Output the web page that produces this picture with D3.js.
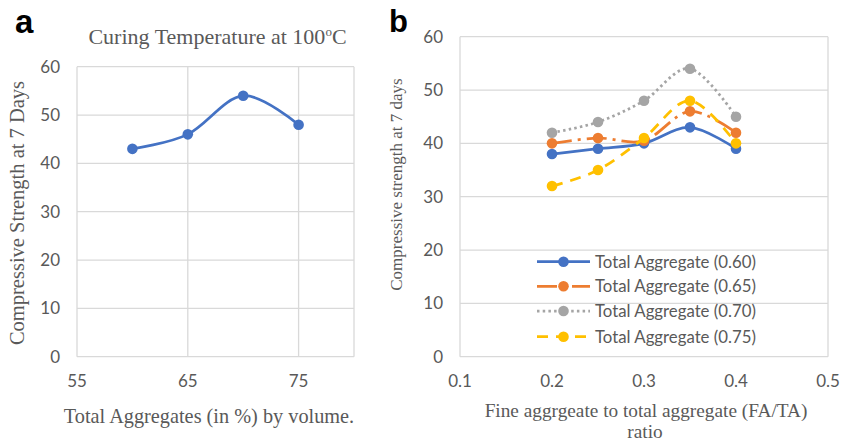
<!DOCTYPE html>
<html><head><meta charset="utf-8">
<script src="https://cdn.jsdelivr.net/npm/d3@7"></script>
<style>html,body{margin:0;padding:0;background:#fff;}svg{display:block;}</style>
</head><body>
<svg id="chart" width="854" height="442"></svg>
<script>
// ---- data ----
const aggPercent = [60, 65, 70, 75];
const aggStrength = [43, 46, 54, 48];
const aTicksX = [55, 65, 75];
const yTicks = [0, 10, 20, 30, 40, 50, 60];

const faRatio = [0.2, 0.25, 0.3, 0.35, 0.4];
const ta060 = [38, 39, 40, 43, 39];
const ta065 = [40, 41, 40.5, 46, 42];
const ta070 = [42, 44, 48, 54, 45];
const ta075 = [32, 35, 41, 48, 40];
const bTicksX = [0.1, 0.2, 0.3, 0.4, 0.5];
const seriesNames = ["Total Aggregate (0.60)", "Total Aggregate (0.65)", "Total Aggregate (0.70)", "Total Aggregate (0.75)"];
const seriesColors = ["#4472C4", "#ED7D31", "#A5A5A5", "#FFC000"];
const seriesDash = [null, "20,6,3,6", "2.5,3.2", "11,8"];

const svg = d3.select("#chart");
const grid = "#d9d9d9", txt = "#595959";
const sans = "Lato, 'Open Sans', sans-serif";
const serif = "'Liberation Serif', 'DejaVu Serif', serif";
const curve = d3.curveCardinal.tension(0);
const tickFs = 17;

// ---- panel a ----
const ax = d3.scaleLinear().domain([55, 80]).range([77, 354]);
const ay = d3.scaleLinear().domain([0, 60]).range([356.7, 66.7]);
const ga = svg.append("g");
ga.selectAll(".hg").data(yTicks).join("line")
  .attr("x1", ax(55)).attr("x2", ax(80)).attr("y1", d => ay(d)).attr("y2", d => ay(d))
  .attr("stroke", grid).attr("stroke-width", 1.3);
ga.selectAll(".vg").data([55, 65, 75, 80]).join("line")
  .attr("y1", ay(0)).attr("y2", ay(60)).attr("x1", d => ax(d)).attr("x2", d => ax(d))
  .attr("stroke", grid).attr("stroke-width", 1.3);
ga.selectAll(".yl").data(yTicks).join("text")
  .attr("x", 60).attr("y", d => ay(d)).attr("dy", "0.35em").attr("text-anchor", "end")
  .attr("font-family", sans).attr("font-size", tickFs).attr("fill", txt).text(d => d);
ga.selectAll(".xl").data(aTicksX).join("text")
  .attr("x", d => ax(d)).attr("y", 381).attr("dy", "0.35em").attr("text-anchor", "middle")
  .attr("font-family", sans).attr("font-size", tickFs).attr("fill", txt).text(d => d);
const aPts = aggPercent.map((x, i) => [x, aggStrength[i]]);
ga.append("path").datum(aPts)
  .attr("d", d3.line().x(d => ax(d[0])).y(d => ay(d[1])).curve(curve))
  .attr("fill", "none").attr("stroke", "#4472C4").attr("stroke-width", 2.75);
ga.selectAll(".pt").data(aPts).join("circle")
  .attr("cx", d => ax(d[0])).attr("cy", d => ay(d[1])).attr("r", 5.3).attr("fill", "#4472C4");
const at = ga.append("text").attr("x", 217.5).attr("y", 44).attr("text-anchor", "middle")
  .attr("font-family", serif).attr("font-size", 22).attr("fill", txt);
at.append("tspan").text("Curing Temperature at 100");
at.append("tspan").attr("font-size", 13).attr("dy", -8).text("o");
at.append("tspan").attr("dy", 8).text("C");
ga.append("text").attr("x", 209).attr("y", 423).attr("text-anchor", "middle")
  .attr("font-family", serif).attr("font-size", 20.3).attr("fill", txt)
  .text("Total Aggregates (in %) by volume.");
ga.append("text").attr("transform", "translate(24,213) rotate(-90)").attr("text-anchor", "middle")
  .attr("font-family", serif).attr("font-size", 20.5).attr("fill", txt)
  .text("Compressive Strength at 7 Days");
svg.append("text").attr("x", 15).attr("y", 33).attr("font-family", "'Liberation Sans', Arial, sans-serif")
  .attr("font-weight", "bold").attr("font-size", 33).attr("fill", "#000").text("a");

// ---- panel b ----
const bx = d3.scaleLinear().domain([0.1, 0.5]).range([460, 828]);
const by = d3.scaleLinear().domain([0, 60]).range([356.7, 36.7]);
const gb = svg.append("g");
gb.selectAll(".hg").data(yTicks).join("line")
  .attr("x1", bx(0.1)).attr("x2", bx(0.5)).attr("y1", d => by(d)).attr("y2", d => by(d))
  .attr("stroke", grid).attr("stroke-width", 1.3);
gb.selectAll(".vb").data([0.1, 0.5]).join("line")
  .attr("y1", by(0)).attr("y2", by(60)).attr("x1", d => bx(d)).attr("x2", d => bx(d))
  .attr("stroke", grid).attr("stroke-width", 1.3);
gb.selectAll(".yl").data(yTicks).join("text")
  .attr("x", 443).attr("y", d => by(d)).attr("dy", "0.35em").attr("text-anchor", "end")
  .attr("font-family", sans).attr("font-size", tickFs).attr("fill", txt).text(d => d);
gb.selectAll(".xl").data(bTicksX).join("text")
  .attr("x", d => bx(d)).attr("y", 381).attr("dy", "0.35em").attr("text-anchor", "middle")
  .attr("font-family", sans).attr("font-size", tickFs).attr("fill", txt).text(d => d3.format(".1f")(d));
const allSeries = [ta060, ta065, ta070, ta075];
allSeries.forEach((vals, si) => {
  const pts = faRatio.map((x, i) => [x, vals[i]]);
  const p = gb.append("path").datum(pts)
    .attr("d", d3.line().x(d => bx(d[0])).y(d => by(d[1])).curve(curve))
    .attr("fill", "none").attr("stroke", seriesColors[si]).attr("stroke-width", 2.75);
  if (seriesDash[si]) p.attr("stroke-dasharray", seriesDash[si]);
  gb.selectAll(".m" + si).data(pts).join("circle")
    .attr("cx", d => bx(d[0])).attr("cy", d => by(d[1])).attr("r", 5.3).attr("fill", seriesColors[si]);
});
// legend
const legY = [261.7, 286.3, 311, 336.7];
seriesNames.forEach((name, si) => {
  const y = legY[si];
  const l = gb.append("line").attr("x1", 537).attr("x2", 590).attr("y1", y).attr("y2", y)
    .attr("stroke", seriesColors[si]).attr("stroke-width", 2.75);
  if (seriesDash[si]) l.attr("stroke-dasharray", seriesDash[si]);
  gb.append("circle").attr("cx", 563.5).attr("cy", y).attr("r", 5.3).attr("fill", seriesColors[si]);
  gb.append("text").attr("x", 595).attr("y", y).attr("dy", "0.35em")
    .attr("font-family", sans).attr("font-size", 16.8).attr("fill", txt).text(name);
});
gb.append("text").attr("transform", "translate(402,184.5) rotate(-90)").attr("text-anchor", "middle")
  .attr("font-family", serif).attr("font-size", 17).attr("fill", txt)
  .text("Compressive strength at 7 days");
gb.append("text").attr("x", 646).attr("y", 417).attr("text-anchor", "middle")
  .attr("font-family", serif).attr("font-size", 19.3).attr("fill", txt)
  .text("Fine aggrgeate to total aggregate (FA/TA)");
gb.append("text").attr("x", 645).attr("y", 438).attr("text-anchor", "middle")
  .attr("font-family", serif).attr("font-size", 19.3).attr("fill", txt).text("ratio");
svg.append("text").attr("x", 389).attr("y", 32).attr("font-family", "'Liberation Sans', Arial, sans-serif")
  .attr("font-weight", "bold").attr("font-size", 31).attr("fill", "#000").text("b");
</script>
</body></html>
